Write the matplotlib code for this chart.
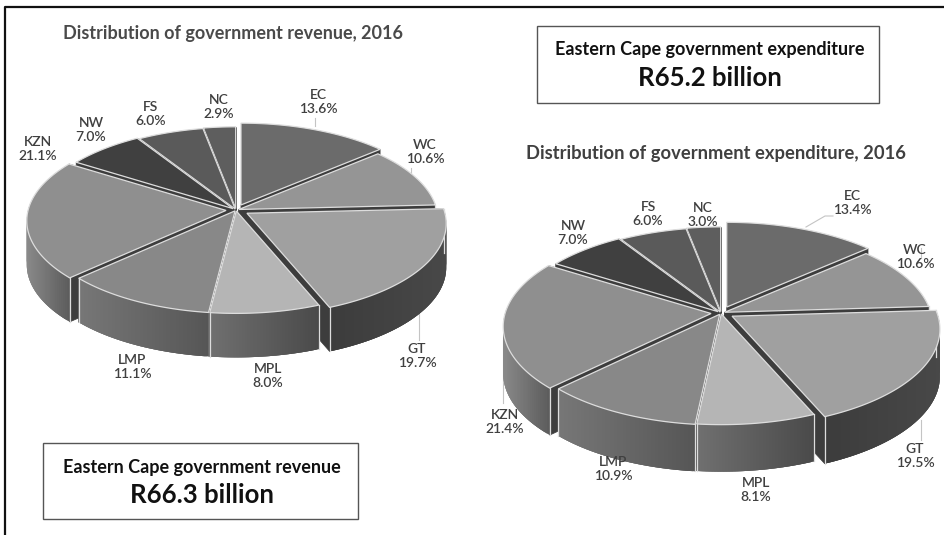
import numpy as np
import matplotlib
matplotlib.use("Agg")
import matplotlib.pyplot as plt
from matplotlib.patches import Rectangle

plt.rcParams["font.family"] = ["Lato", "DejaVu Sans"]

# Podily provincii, po smeru hodin od 12 hodin
provinces = ["EC", "WC", "GT", "MPL", "LMP", "KZN", "NW", "FS", "NC"]
revenue = [13.6, 10.6, 19.7, 8.0, 11.1, 21.1, 7.0, 6.0, 2.9]
expenditure = [13.4, 10.6, 19.5, 8.1, 10.9, 21.4, 7.0, 6.0, 3.0]

# Barvy
top_cols = ["#6b6b6b", "#959595", "#a0a0a0", "#b5b5b5", "#888888", "#8f8f8f", "#404040", "#5a5a5a", "#5e5e5e"]
wall_left = ["#505050", "#707070", "#3c3c3c", "#707070", "#777777", "#8a8a8a", "#303030", "#444444", "#444444"]
wall_right = ["#404040", "#505050", "#484848", "#4a4a4a", "#565656", "#5c5c5c", "#303030", "#444444", "#444444"]
cut_col = "#3d3d3d"
edge_col = "#dddddd"
text_col = "#404040"

# Vysunuti kazdeho dilku
explode_rev = [12, 3, 13, 2, 2, 10, 4, 2, 3]
explode_exp = [14, 4, 13, 2, 3, 10, 4, 2, 3]

fig = plt.figure(figsize=(9.45, 5.35), dpi=100)
ax = fig.add_axes([0, 0, 1, 1])
ax.set_xlim(0, 945)
ax.set_ylim(535, 0)
ax.axis("off")


def project(theta, r, cx, cy, rx, ry, k):
    # theta merene po smeru hodin od 12 hodin, jednoducha perspektiva
    sx = np.sin(theta) * r
    sy = -np.cos(theta) * r
    f = 1 / (1 - k * sy)
    return cx + rx * sx * f, cy + ry * sy * f


def pie3d(values, explode, cx, cy, rx, ry, k, depth):
    vals = np.array(values, dtype=float)
    edges = np.concatenate([[0], np.cumsum(vals)]) / vals.sum() * 2 * np.pi
    mids = (edges[:-1] + edges[1:]) / 2
    # od zadnich dilku k prednim
    order = list(np.argsort(-np.cos(mids)))
    for i in order:
        t0, t1 = edges[i], edges[i + 1]
        ts = np.linspace(t0, t1, 80)
        dx = explode[i] * np.sin(mids[i])
        dy = -explode[i] * np.cos(mids[i]) * ry / rx
        ox, oy = project(ts, 1.0, cx, cy, rx, ry, k)
        ox, oy = ox + dx, oy + dy
        tip = (cx + dx, cy + dy)
        z = 1 + 0.01 * order.index(i)

        # rezy
        for j in (0, -1):
            ax.fill([tip[0], ox[j], ox[j], tip[0]],
                    [tip[1], oy[j], oy[j] + depth, tip[1] + depth],
                    color=cut_col, lw=0.5, zorder=z)

        # vnejsi stena s prechodem barvy, pruhy se prekryvaji aby nebyly videt spary
        c0 = np.array(matplotlib.colors.to_rgb(wall_left[i]))
        c1 = np.array(matplotlib.colors.to_rgb(wall_right[i]))
        xmin, xmax = ox.min(), ox.max()
        n = len(ts)
        for a in range(n - 1):
            if np.cos(ts[a]) > 0.02 and np.cos(ts[a + 1]) > 0.02:
                continue
            b = min(a + 3, n - 1)
            frac = ((ox[a] + ox[a + 1]) / 2 - xmin) / max(xmax - xmin, 1)
            col = c0 + (c1 - c0) * frac
            xs = np.r_[ox[a:b + 1], ox[a:b + 1][::-1]]
            ys = np.r_[oy[a:b + 1], oy[a:b + 1][::-1] + depth]
            ax.fill(xs, ys, facecolor=col, edgecolor="none", zorder=z + 0.001 + 1e-5 * a)
        # svisle hrany
        for j in (0, -1):
            if np.cos(ts[j]) < 0.1:
                ax.plot([ox[j], ox[j]], [oy[j], oy[j] + depth], color=edge_col, lw=0.9, zorder=z + 0.004)

        # horni plocha
        ax.fill(np.r_[tip[0], ox], np.r_[tip[1], oy], facecolor=top_cols[i],
                edgecolor=edge_col, lw=0.9, joinstyle="miter", zorder=z + 0.005)


def labels(names, values, pos):
    for name, val, (x, y) in zip(names, values, pos):
        ax.text(x, y, f"{name}\n{val:.1f}%", ha="center", va="center", fontsize=10,
                fontweight="semibold", color=text_col, linespacing=1.2, zorder=20)


# okraj obrazku
ax.plot([5, 5, 945], [535, 6.5, 6.5], color="#111111", lw=1.6, zorder=0)

pie3d(revenue, explode_rev, 236, 210, 198, 91, 0.112, 44)
pie3d(expenditure, explode_exp, 721, 313, 206, 96, 0.133, 47)

rev_pos = [(318, 102), (425, 152), (417, 356), (268, 376), (132, 367), (38, 149), (91, 130), (151, 114), (219, 107)]
exp_pos = [(852, 203), (915, 257), (915, 456), (756, 490), (613, 469), (505, 422), (573, 233), (648, 214), (703, 215)]
labels(provinces, revenue, rev_pos)
labels(provinces, expenditure, exp_pos)

# vodici cary
for xs, ys in [([315, 315], [118, 126]), ([411, 411], [168, 178]), ([419, 419], [308, 340]),
               ([806, 825, 833], [227, 216, 216]), ([921, 921], [248, 258]), ([503, 503], [340, 403]),
               ([921, 921], [420, 440])]:
    ax.plot(xs, ys, color="#c4c4c4", lw=0.8, zorder=0.5)

ax.text(233, 34, "Distribution of government revenue, 2016", ha="center", va="center",
        fontsize=13, fontweight="bold", color="#4a4a4a")
ax.text(716, 153, "Distribution of government expenditure, 2016", ha="center", va="center",
        fontsize=13.2, fontweight="bold", color="#404040")

# textove ramecky
for (x0, y0, w, h), line1, line2, tx, y1, y2 in [
    ((537, 26, 342, 77), "Eastern Cape government expenditure", "R65.2 billion", 710, 50, 78),
    ((43, 443, 315, 76), "Eastern Cape government revenue", "R66.3 billion", 202, 467, 495),
]:
    ax.add_patch(Rectangle((x0, y0), w, h, fc="white", ec="#555555", lw=1.0, zorder=5))
    ax.text(tx, y1, line1, ha="center", va="center", fontsize=13,
            fontweight="bold", color="#111111", zorder=6)
    ax.text(tx, y2, line2, ha="center", va="center", fontsize=18.5,
            fontweight="bold", color="#111111", zorder=6)

fig.savefig("out.png", dpi=100)
